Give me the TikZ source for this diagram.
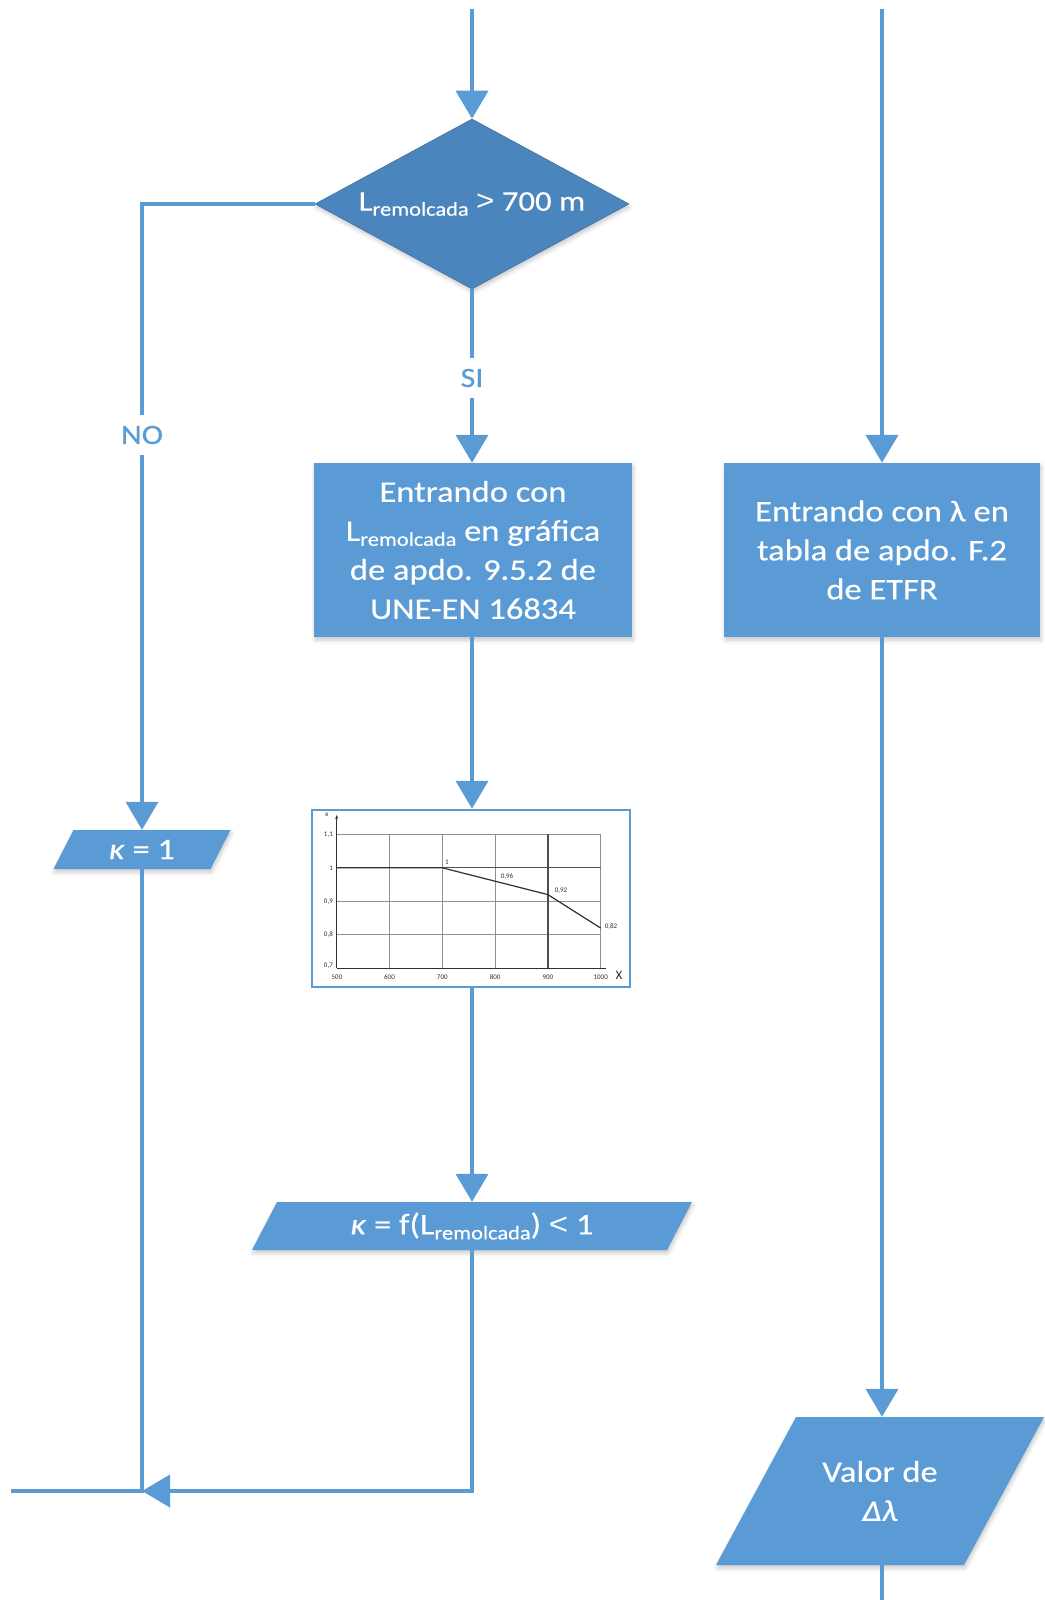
\documentclass[tikz,border=0pt]{standalone}
\usepackage{fontspec}
\setmainfont{Carlito}
\newfontfamily\boxfont[FakeStretch=1.15,FakeBold=0.4]{Carlito}
\newfontfamily\relfont[FakeStretch=1.1]{Liberation Sans}
\usetikzlibrary{arrows.meta,shapes.geometric,calc,shadows.blur}

\definecolor{flowblue}{HTML}{5B9BD5}
\definecolor{flowdark}{HTML}{4A85BE}
\definecolor{gridgray}{HTML}{909090}
\definecolor{plotink}{HTML}{303030}

% subscript used in the length label
\newcommand\remsub{\raisebox{-5pt}{\fontsize{19.5}{20}\selectfont remolcada}}
% comparison signs drawn a little larger than the text
\newcommand\gtsign{{\relfont >}}
\newcommand\ltsign{{\relfont <}}

% slanted input/output box: centre x, centre y, edge width, height, slant
\newcommand\slantbox[5]{%
  \fill[flowblue, softshadow]
    ({#1-#3/2+#5/2},{#2-#4/2}) -- ({#1+#3/2+#5/2},{#2-#4/2}) --
    ({#1+#3/2-#5/2},{#2+#4/2}) -- ({#1-#3/2-#5/2},{#2+#4/2}) -- cycle;}

\tikzset{
  softshadow/.style={blur shadow={shadow xshift=1pt, shadow yshift=-3pt,
      shadow blur radius=4pt, shadow opacity=22}},
  flow/.style={draw=flowblue, line width=4pt},
  arrowtip/.style={-{Triangle[length=28pt,width=32pt]}},
  boxtext/.style={text=white, font=\boxfont\fontsize{30}{39}\selectfont,
      align=center, inner sep=0pt},
  procbox/.style={rectangle, fill=flowblue, softshadow, boxtext,
      minimum width=318pt, minimum height=174pt},
  decision/.style={diamond, fill=flowdark, draw=flowdark!85!black, line width=0.6pt,
      softshadow, boxtext, font=\boxfont\fontsize{28.5}{34}\selectfont,
      minimum width=314pt, minimum height=170pt, aspect=1.85},
  ioarea/.style={rectangle, boxtext, inner sep=0pt},
  answer/.style={fill=white, text=flowblue, inner sep=3pt, minimum height=40pt,
      font=\boxfont\fontsize{28}{28}\selectfont},
  tick/.style={font=\fontsize{7}{7}\selectfont, text=plotink, inner sep=0pt},
}

\begin{document}
\begin{tikzpicture}[x=1pt, y=-1pt]
\useasboundingbox (0,0) rectangle (1044,1600);

% ---------- left branch: length test ----------
\coordinate (intop) at (472,9);
\node[decision] (test) at (472,204) {L\remsub{} \gtsign{} 700 m};

\node[procbox] (graph) at (473,550)
  {Entrando con\\L\remsub{} en gráfica\\de apdo. 9.5.2 de\\UNE-EN 16834};

% chart of kappa against length
\node[rectangle, draw=flowblue, line width=2.5pt, fill=white,
      minimum width=318pt, minimum height=177pt, inner sep=0pt] (chart) at (471,898.5) {};
\begin{scope}
  % light grid
  \foreach \yy in {834.3,901.3,934.8}
    \draw[gridgray, line width=0.9pt] (336.7,\yy) -- (600.7,\yy);
  \foreach \xx in {389.5,442.3,495.1,600.7}
    \draw[gridgray, line width=0.9pt] (\xx,968.3) -- (\xx,834.3);
  % marked lines
  \draw[plotink!85, line width=1.2pt] (336.7,867.8) -- (600.7,867.8);
  \draw[plotink!85, line width=1.2pt] (547.9,968.3) -- (547.9,834.3);
  % axes
  \draw[plotink, line width=1pt, -{Stealth[length=4pt,width=3pt]}] (336.7,968.3) -- (336.7,815);
  \draw[plotink, line width=1pt] (336.7,968.3) -- (606,968.3);
  % reduction curve
  \draw[plotink, line width=1.2pt] (336.7,867.8) -- (442.3,867.8) -- (495.1,881.2)
     -- (547.9,894.6) -- (600.7,928.1);
  % axis labels
  \node[tick] (ak) at (327,815) {κ};
  \node[tick, anchor=east] (y11) at (333,834.3) {1,1};
  \node[tick, anchor=east] (y10) at (333,867.8) {1};
  \node[tick, anchor=east] (y09) at (333,901.3) {0,9};
  \node[tick, anchor=east] (y08) at (333,934.8) {0,8};
  \node[tick, anchor=east] (y07) at (333,966) {0,7};
  \node[tick] (x05) at (337,977) {500};
  \node[tick] (x06) at (389.5,977) {600};
  \node[tick] (x07) at (442.3,977) {700};
  \node[tick] (x08) at (495.1,977) {800};
  \node[tick] (x09) at (547.9,977) {900};
  \node[tick] (x10) at (600.7,977) {1000};
  \node[tick, font=\fontsize{13}{13}\selectfont] (ax) at (619,975) {X};
  \node[tick] (p1) at (447,862) {1};
  \node[tick] (p2) at (507,877) {0,96};
  \node[tick] (p3) at (561,891) {0,92};
  \node[tick] (p4) at (611,927) {0,82};
\end{scope}

% output boxes
\slantbox{142}{849.5}{157}{39}{20}
\node[ioarea, minimum width=157pt, minimum height=39pt] (kone) at (142,849.5) {\itshape κ\upshape{} = 1};

\slantbox{472}{1226}{415}{48}{25}
\node[ioarea, minimum width=415pt, minimum height=48pt] (kfun) at (472,1226)
  {\itshape κ\upshape{} = f(L\remsub) \ltsign{} 1};

% ---------- right branch ----------
\coordinate (rtop) at (882,9);
\node[procbox, minimum width=316pt] (table) at (882,550)
  {Entrando con λ en\\tabla de apdo. F.2\\de ETFR};

\slantbox{880}{1491}{248}{148}{80}
\node[ioarea, minimum width=248pt, minimum height=148pt] (dlam) at (880,1491)
  {Valor de\\\itshape Δλ};
\coordinate (rbottom) at (882,1600);

% ---------- connectors ----------
\coordinate (join) at (142,1491);
\coordinate (outleft) at (11,1491);

\draw[flow, arrowtip] (intop) -- (test.north);
\draw[flow, arrowtip] (test.south) -- (graph.north -| test.south);
\draw[flow, arrowtip] (test.west) -| (kone.north);
\draw[flow, arrowtip] (graph.south -| test.south) -- (chart.north -| test.south);
\draw[flow, arrowtip] (chart.south -| test.south) -- (kfun.north -| test.south);
\draw[flow] (kone.south) -- (join) -- (outleft);
\draw[flow, arrowtip] (kfun.south) |- (join);

\draw[flow, arrowtip] (rtop) -- (table.north -| rtop);
\draw[flow, arrowtip] (table.south -| rtop) -- (dlam.north -| rtop);
\draw[flow] (dlam.south -| rtop) -- (rbottom);

% branch answers
\node[answer] (no) at (142,435) {NO};
\node[answer] (si) at (472,378) {SI};
\end{tikzpicture}
\end{document}
